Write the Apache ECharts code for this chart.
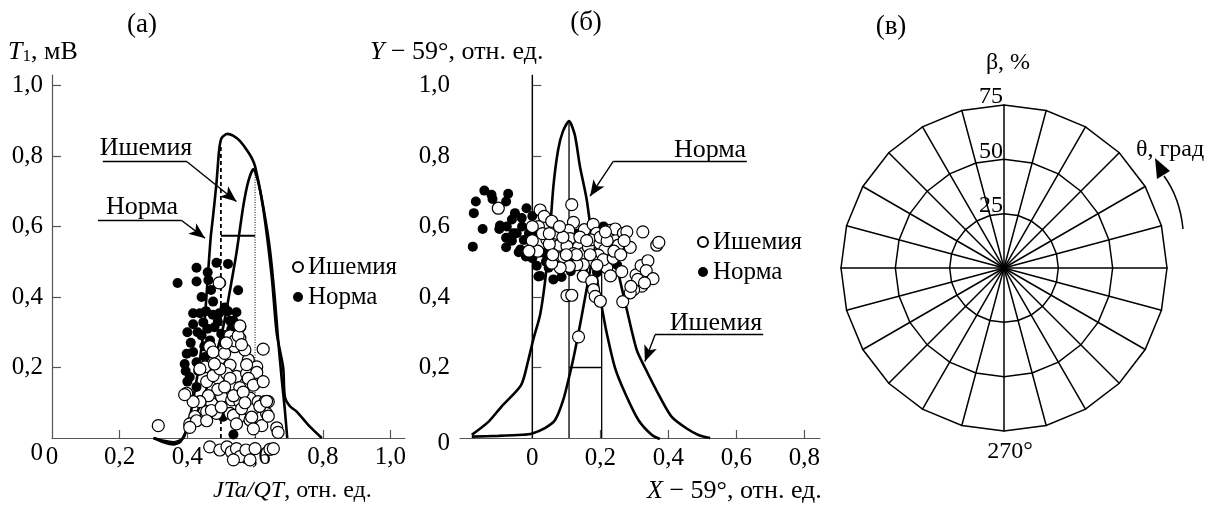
<!DOCTYPE html>
<html>
<head>
<meta charset="utf-8">
<title>ECharts</title>
<script src="https://cdn.jsdelivr.net/npm/echarts@6/dist/echarts.min.js"></script>
</head>
<body style="margin:0">
<div id="main" style="width:1208px;height:509px;"></div>
<script type="text/javascript">
// ---- панель (а): T1 от JTa/QT ----
var curveNormaA = [[0.30,0],[0.33,-0.008],[0.358,-0.012],[0.388,0],[0.405,0.05],[0.417,0.108],[0.437,0.222],[0.451,0.335],[0.462,0.48],[0.469,0.57],[0.476,0.63],[0.486,0.724],[0.494,0.818],[0.501,0.851],[0.518,0.863],[0.535,0.858],[0.555,0.843],[0.575,0.818],[0.59,0.795],[0.60,0.771],[0.62,0.676],[0.634,0.582],[0.65,0.45],[0.664,0.297],[0.683,0.2],[0.688,0.117],[0.703,0.09],[0.723,0.075],[0.762,0.032],[0.797,0]];
var curveIschA = [[0.30,0],[0.33,-0.012],[0.358,-0.018],[0.38,-0.01],[0.398,0.023],[0.432,0.08],[0.462,0.155],[0.481,0.222],[0.506,0.316],[0.526,0.42],[0.545,0.525],[0.565,0.657],[0.58,0.728],[0.595,0.763],[0.61,0.724],[0.629,0.629],[0.644,0.534],[0.658,0.4],[0.668,0.28],[0.679,0.165],[0.688,0.08],[0.695,0]];
var dashA = [[0.499,0],[0.499,0.832]];
var dotA = [[0.6,0],[0.6,0.766]];
var barA = [[0.499,0.574],[0.6,0.574]];
var pointsNormaA = [[0.371,0.44],[0.427,0.483],[0.486,0.497],[0.52,0.494],[0.427,0.444],[0.462,0.448],[0.55,0.419],[0.442,0.40],[0.476,0.387],[0.437,0.354],[0.417,0.354],[0.494,0.354],[0.545,0.357],[0.417,0.323],[0.447,0.328],[0.48,0.314],[0.536,0.333],[0.398,0.239],[0.417,0.244],[0.392,0.21],[0.427,0.215],[0.407,0.173],[0.427,0.145],[0.442,0.291],[0.467,0.277],[0.50,0.296],[0.526,0.333],[0.536,0.01],[0.585,0.186],[0.45,0.26],[0.41,0.27],[0.432,0.19],[0.455,0.36],[0.51,0.37],[0.46,0.31],[0.40,0.16],[0.452,0.23],[0.49,0.33],[0.47,0.42],[0.5,0.44],[0.53,0.31],[0.505,0.06],[0.395,0.19],[0.43,0.30],[0.475,0.35],[0.40,0.3],[0.46,0.47],[0.52,0.36]];
var pointsIschA = [[0.494,0.44],[0.555,0.316],[0.524,0.292],[0.555,0.283],[0.54,0.259],[0.624,0.252],[0.466,0.259],[0.496,0.226],[0.526,0.207],[0.58,0.222],[0.605,0.202],[0.452,0.202],[0.457,0.16],[0.491,0.169],[0.516,0.183],[0.545,0.175],[0.575,0.183],[0.6,0.175],[0.398,0.127],[0.442,0.103],[0.472,0.098],[0.501,0.117],[0.531,0.108],[0.555,0.103],[0.585,0.113],[0.609,0.103],[0.629,0.103],[0.422,0.061],[0.457,0.075],[0.486,0.07],[0.526,0.07],[0.555,0.061],[0.585,0.051],[0.615,0.056],[0.634,0.07],[0.639,0.103],[0.314,0.035],[0.407,0.04],[0.664,0.029],[0.62,0.035],[0.526,0.29],[0.54,0.276],[0.55,0.29],[0.555,0.318],[0.575,0.208],[0.605,0.16],[0.605,0.186],[0.58,0.169],[0.437,0.196],[0.476,0.177],[0.496,0.196],[0.526,0.169],[0.555,0.143],[0.49,0.138],[0.536,0.12],[0.565,0.13],[0.595,0.15],[0.624,0.16],[0.462,0.12],[0.437,0.103],[0.471,0.078],[0.5,0.088],[0.536,0.064],[0.56,0.083],[0.59,0.059],[0.614,0.09],[0.634,0.104],[0.639,0.062],[0.595,0.026],[0.668,0.016],[0.427,0.049],[0.407,0.03],[0.457,0.049],[0.417,0.103],[0.392,0.123],[0.476,0.244],[0.51,0.24],[0.57,0.25],[0.51,0.145],[0.57,0.1],[0.545,0.04],[0.48,0.21],[0.515,0.27],[0.56,0.265],[0.466,-0.025],[0.496,-0.034],[0.517,-0.025],[0.53,-0.039],[0.545,-0.03],[0.555,-0.053],[0.573,-0.034],[0.585,-0.062],[0.6,-0.03],[0.644,-0.032],[0.654,-0.03],[0.536,-0.062]];
var xTicksA = [0.2,0.4,0.6,0.8,1.0];
var xLabelsA = [0,0.2,0.4,0.6,0.8,1.0];
var yTicks = [0.2,0.4,0.6,0.8,1.0];
var yLabels = [0,0.2,0.4,0.6,0.8,1.0];

// ---- панель (б): Y-59 от X-59 ----
var curveNormaB = [[-0.178,0.009],[-0.13,0.045],[-0.09,0.09],[-0.033,0.15],[-0.012,0.22],[0.003,0.28],[0.023,0.35],[0.037,0.44],[0.05,0.56],[0.062,0.714],[0.076,0.818],[0.09,0.87],[0.108,0.899],[0.125,0.86],[0.14,0.771],[0.16,0.676],[0.18,0.53],[0.195,0.42],[0.204,0.373],[0.219,0.297],[0.243,0.2],[0.273,0.127],[0.312,0.051],[0.351,0.009],[0.375,-0.003]];
var curveIschB = [[-0.178,0.004],[-0.1,0.006],[-0.03,0.009],[0,0.013],[0.037,0.028],[0.067,0.051],[0.091,0.108],[0.111,0.184],[0.126,0.25],[0.145,0.345],[0.165,0.45],[0.185,0.55],[0.204,0.61],[0.225,0.58],[0.24,0.53],[0.253,0.468],[0.278,0.364],[0.307,0.25],[0.331,0.2],[0.376,0.115],[0.41,0.06],[0.454,0.027],[0.49,0.008],[0.523,0]];
var zeroB = [[0,0],[0,1.03]];
var peakNormaB = [[0.108,0],[0.108,0.899]];
var peakIschB = [[0.204,0],[0.204,0.61]];
var barB = [[0.108,0.2],[0.204,0.2]];
var pointsNormaB = [[-0.141,0.702],[-0.166,0.671],[-0.172,0.638],[-0.146,0.593],[-0.175,0.543],[-0.117,0.678],[-0.071,0.693],[-0.077,0.671],[-0.097,0.593],[-0.075,0.6],[-0.077,0.568],[-0.077,0.541],[-0.051,0.638],[-0.046,0.581],[-0.04,0.527],[-0.017,0.652],[-0.019,0.515],[-0.025,0.562],[0,0.63],[0.013,0.489],[0.023,0.46],[0.048,0.483],[0.062,0.45],[0.086,0.457],[0.113,0.473],[0.003,0.581],[-0.095,0.603],[-0.056,0.581],[-0.031,0.624],[-0.002,0.553],[0.034,0.525],[0.018,0.458],[-0.12,0.69],[-0.03,0.6],[-0.06,0.62],[0.01,0.6],[0,0.51],[0.07,0.49],[0.11,0.5],[0.15,0.48],[0.19,0.47],[0.21,0.6],[0.25,0.49],[0.13,0.58],[0.04,0.5],[-0.005,0.54],[-0.06,0.56],[-0.035,0.535],[-0.01,0.58]];
var pointsIschB = [[-0.1,0.652],[0.023,0.647],[0.035,0.629],[0.018,0.6],[0.043,0.563],[0.016,0.53],[0.057,0.615],[0.072,0.581],[0.116,0.662],[0.121,0.612],[0.107,0.589],[0.111,0.566],[0.08,0.547],[0.102,0.544],[0.136,0.542],[0.092,0.514],[0.121,0.523],[0.149,0.523],[0.165,0.542],[0.153,0.591],[0.179,0.606],[0.189,0.581],[0.172,0.562],[0.199,0.552],[0.213,0.534],[0.194,0.519],[0.175,0.505],[0.15,0.492],[0.131,0.492],[0.109,0.487],[0.082,0.483],[0.057,0.496],[0.15,0.459],[0.175,0.445],[0.18,0.421],[0.185,0.402],[0.2,0.388],[0.219,0.483],[0.229,0.589],[0.244,0.593],[0.253,0.547],[0.268,0.581],[0.278,0.585],[0.288,0.541],[0.263,0.472],[0.266,0.387],[0.325,0.585],[0.366,0.547],[0.372,0.555],[0.305,0.463],[0.32,0.489],[0.34,0.503],[0.335,0.475],[0.355,0.452],[0.322,0.431],[0.298,0.421],[0.288,0.412],[0.102,0.404],[0.116,0.405],[0.136,0.287],[0.209,0.506],[0.238,0.51],[0,0.6],[0,0.56],[0.03,0.58],[0.05,0.55],[0.06,0.52],[0.09,0.57],[0.08,0.6],[0.14,0.57],[0.16,0.56],[0.2,0.57],[0.22,0.56],[0.24,0.53],[0.26,0.52],[0.19,0.49],[0.23,0.46],[0.27,0.56],[0.31,0.45],[0.33,0.44],[0.29,0.43],[0.215,0.585],[0.13,0.52],[0.17,0.52],[0.05,0.58],[0.1,0.52],[-0.01,0.53]];
var xTicksB = [0.2,0.4,0.6,0.8];
var xLabelsB = [0,0.2,0.4,0.6,0.8];

// ---- панель (в): полярная сетка ----
var spokeAngles = [0,15,30,45,60,75,90,105,120,135,150,165,180,195,210,225,240,255,270,285,300,315,330,345];
var betaLabels = [25,50,75];

var FF = "'Liberation Serif', 'Times New Roman', 'DejaVu Serif', serif";
function fmt(v) { return v === 0 ? '0' : v.toFixed(1).replace('.', ','); }
function fnt(size) { return size + 'px ' + FF; }

var myChart = echarts.init(document.getElementById('main'));

function axisBase(extra) {
    var a = {
        type: 'value',
        axisLine: { show: true, lineStyle: { color: '#555', width: 1.2 } },
        axisTick: { show: true, inside: true, length: 9, lineStyle: { color: '#555', width: 1.2 } },
        splitLine: { show: false },
        axisLabel: { color: '#000', fontFamily: FF, fontSize: 25 }
    };
    return echarts.util.merge(a, extra, true);
}

function lineSeries(data, xi, width, type) {
    return {
        type: 'line', xAxisIndex: xi, yAxisIndex: xi, data: data,
        symbol: 'none', clip: false, silent: true, z: 2,
        lineStyle: { color: '#000', width: width, type: type || 'solid' }
    };
}

function arrows(list) {
    var out = [];
    list.forEach(function (p) {
        out.push([{ coord: p[0], symbol: 'none' }, { coord: p[1], symbol: 'none' }]);
        out.push([{ coord: p[1], symbol: 'none' }, { coord: p[2], symbol: 'arrow' }]);
    });
    return out;
}

function scatter(name, xi, data, white) {
    return {
        name: name, type: 'scatter', xAxisIndex: xi, yAxisIndex: xi, data: data,
        symbol: 'circle', symbolSize: white ? 12 : 10, clip: false, z: 3,
        itemStyle: white ? { color: '#fff', borderColor: '#000', borderWidth: 1.2, opacity: 1 }
                         : { color: '#000', opacity: 1 }
    };
}

var indicator = spokeAngles.map(function () { return { max: 75 }; });
var richName = { i: { fontFamily: FF, fontSize: 26, fontStyle: 'italic', color: '#000' }, n: { fontFamily: FF, fontSize: 26, color: '#000' }, s: { fontFamily: FF, fontSize: 17, verticalAlign: 'bottom', color: '#000' } };
var richNameSm = { i: { fontFamily: FF, fontSize: 24, fontStyle: 'italic', color: '#000' }, n: { fontFamily: FF, fontSize: 24, color: '#000' } };

function label(text, x, y, size) {
    return { type: 'text', z: 100, style: { text: text, x: x, y: y, textAlign: 'center', textVerticalAlign: 'middle', font: fnt(size), fill: '#000' } };
}

var option = {
    animation: false,
    textStyle: { fontFamily: FF },
    grid: [
        { left: 52, right: 803, top: 75, bottom: 71 },
        { left: 460, right: 388, top: 75, bottom: 71 }
    ],
    xAxis: [
        axisBase({ gridIndex: 0, min: 0, max: 1.043,
            axisTick: { customValues: xTicksA, length: 8 },
            axisLabel: { customValues: xLabelsA, formatter: fmt, margin: 7 } }),
        axisBase({ gridIndex: 1, min: -0.2126, max: 0.846,
            axisTick: { customValues: xTicksB, length: 8 },
            axisLabel: { customValues: xLabelsB, formatter: fmt, margin: 8 } })
    ],
    yAxis: [
        axisBase({ gridIndex: 0, min: 0, max: 1.03,
            axisTick: { customValues: yTicks },
            axisLabel: { customValues: yLabels, margin: 9,
                formatter: function (v) { return v === 0 ? '{z|0}' : fmt(v); },
                rich: { z: { fontFamily: FF, fontSize: 25, padding: [30, 0, 0, 0] } } } }),
        axisBase({ gridIndex: 1, min: 0, max: 1.03,
            axisTick: { customValues: yTicks },
            axisLabel: { customValues: yLabels, margin: 10,
                formatter: function (v) { return v === 0 ? '{z|0}' : fmt(v); },
                rich: { z: { fontFamily: FF, fontSize: 25, padding: [10, 0, 0, 0] } } } })
    ],
    legend: [
        { left: 287, top: 249, orient: 'vertical', itemWidth: 10, itemHeight: 10, itemGap: 4,
          data: ['Ишемия', 'Норма'], selectedMode: false,
          textStyle: { fontFamily: FF, fontSize: 25, lineHeight: 26, color: '#000' } },
        { left: 692, top: 224, orient: 'vertical', itemWidth: 10, itemHeight: 10, itemGap: 4,
          data: ['Ишемия', 'Норма'], selectedMode: false,
          textStyle: { fontFamily: FF, fontSize: 25, lineHeight: 26, color: '#000' } }
    ],
    radar: {
        center: [1004, 268], radius: 163, startAngle: 90, splitNumber: 3, shape: 'polygon',
        indicator: indicator,
        axisName: { show: false },
        axisLine: { lineStyle: { color: '#000', width: 1.5 } },
        splitLine: { lineStyle: { color: '#000', width: 1.5 } },
        splitArea: { show: false }
    },
    polar: { center: [1004, 268], radius: 163 },
    angleAxis: { show: false, min: 0, max: 360 },
    radiusAxis: {
        min: 0, max: 75, interval: 25,
        axisLine: { show: false }, axisTick: { show: false }, splitLine: { show: false },
        axisLabel: { customValues: betaLabels, color: '#000', fontFamily: FF, fontSize: 24, margin: 1,
                     verticalAlign: 'bottom', lineHeight: 16 }
    },
    series: [
        // (а)
        echarts.util.merge(lineSeries(curveNormaA, 0, 2.6), { smooth: 0.25,
            markLine: { silent: true, symbol: ['none', 'arrow'], symbolSize: [10, 16], label: { show: false },
                lineStyle: { color: '#000', width: 1.4, type: 'solid' },
                data: arrows([
                    [[0.150, 0.784], [0.399, 0.784], [0.545, 0.671]],
                    [[0.136, 0.617], [0.383, 0.617], [0.452, 0.567]]
                ]) } }, true),
        echarts.util.merge(lineSeries(curveIschA, 0, 2.6), { smooth: 0.25 }, true),
        lineSeries(dashA, 0, 1.8, [4, 3]),
        lineSeries(dotA, 0, 1, [1, 1.5]),
        lineSeries(barA, 0, 2),
        scatter('Норма', 0, pointsNormaA, false),
        scatter('Ишемия', 0, pointsIschA, true),
        // (б)
        echarts.util.merge(lineSeries(curveNormaB, 1, 2.6), { smooth: 0.25,
            markLine: { silent: true, symbol: ['none', 'arrow'], symbolSize: [10, 16], label: { show: false },
                lineStyle: { color: '#000', width: 1.4, type: 'solid' },
                data: arrows([
                    [[0.631, 0.785], [0.238, 0.785], [0.17, 0.686]],
                    [[0.679, 0.293], [0.361, 0.293], [0.331, 0.217]]
                ]) } }, true),
        echarts.util.merge(lineSeries(curveIschB, 1, 2.6), { smooth: 0.25 }, true),
        lineSeries(zeroB, 1, 1.3),
        lineSeries(peakNormaB, 1, 1.3),
        lineSeries(peakIschB, 1, 1.3),
        lineSeries(barB, 1, 1.3),
        scatter('Норма', 1, pointsNormaB, false),
        scatter('Ишемия', 1, pointsIschB, true),
        // (в)
        { type: 'radar', data: [], silent: true }
    ],
    graphic: [
        label('(а)', 142, 25, 27),
        label('(б)', 586, 23, 27),
        label('(в)', 891, 27, 27),
        { type: 'text', z: 100, style: { text: '{i|T}{s|1}{n|, мВ}', x: 8, y: 52, textVerticalAlign: 'middle', rich: richName } },
        { type: 'text', z: 100, style: { text: '{i|Y}{n| − 59°, отн. ед.}', x: 370, y: 52, textVerticalAlign: 'middle', rich: richName } },
        { type: 'text', z: 100, style: { text: '{i|JTa/QT}{n|, отн. ед.}', x: 213, y: 491, textVerticalAlign: 'middle', rich: richNameSm } },
        { type: 'text', z: 100, style: { text: '{i|X}{n| − 59°, отн. ед.}', x: 647, y: 491, textVerticalAlign: 'middle', rich: richName } },
        label('Ишемия', 146, 148, 26),
        label('Норма', 142, 207, 26),
        label('Норма', 710, 150, 26),
        label('Ишемия', 716, 323, 26),
        label('β, %', 1008, 63, 24),
        label('270°', 1010, 452, 24),
        label('θ, град', 1170, 150, 24),
        { type: 'bezierCurve', z: 100, shape: { x1: 1183, y1: 229, x2: 1164, y2: 176, cpx1: 1180, cpy1: 198 }, style: { stroke: '#000', lineWidth: 1.5, fill: null } },
        { type: 'polygon', z: 100, shape: { points: [[1155, 158], [1157, 179], [1170, 171]] }, style: { fill: '#000' } }
    ]
};
myChart.setOption(option);
</script>
</body>
</html>
